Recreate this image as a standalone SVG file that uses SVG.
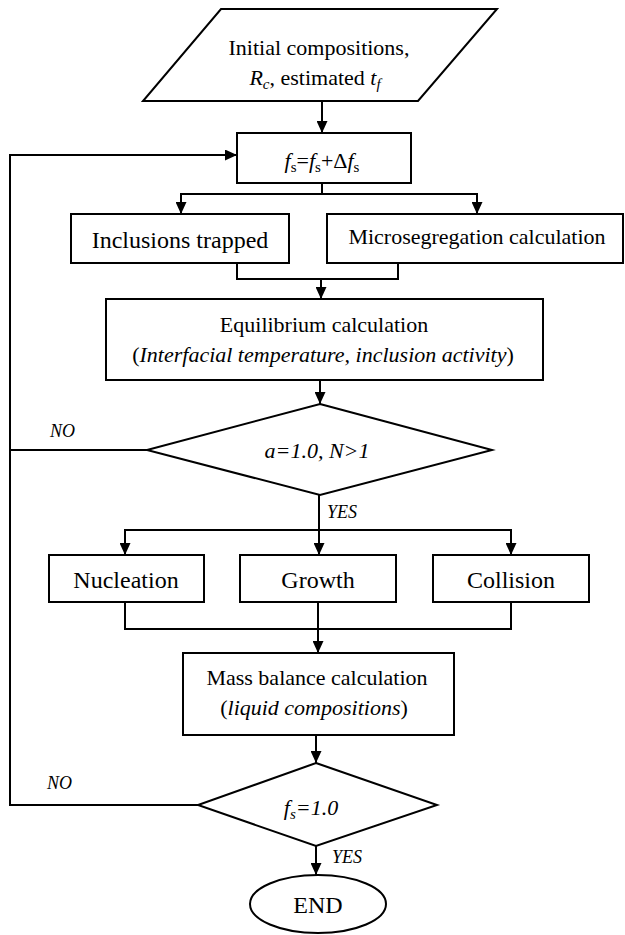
<svg xmlns="http://www.w3.org/2000/svg" width="625" height="935" viewBox="0 0 625 935">
<style>
.shape{fill:#fff;stroke:#000;stroke-width:2}
.conn path{fill:none;stroke:#000;stroke-width:2}
text{font-family:'Liberation Serif','Times New Roman',serif;fill:#000;text-anchor:middle}
.t22{font-size:22px}
.t24{font-size:24px}
.it{font-style:italic}
.lbl{font-size:18px;font-style:italic;text-anchor:start}
</style>
<defs>
<marker id="ah" markerUnits="userSpaceOnUse" markerWidth="12" markerHeight="11" refX="12" refY="5.5" orient="auto">
<path d="M0,0 L12,5.5 L0,11 z" fill="#000"/>
</marker>
</defs>
<rect width="625" height="935" fill="#fff"/>
<g id="connectors" class="conn">
<path d="M322,101 V133" marker-end="url(#ah)"/>
<path d="M322,183 V194 H181 V214" marker-end="url(#ah)"/>
<path d="M322,194 H477 V214" marker-end="url(#ah)"/>
<path d="M237,263 V279 H398 V263"/>
<path d="M321,279 V299" marker-end="url(#ah)"/>
<path d="M320,380 V404" marker-end="url(#ah)"/>
<path d="M147,450 H10 V155 H237" marker-end="url(#ah)"/>
<path d="M198,805 H10 V450"/>
<path d="M319,495 V555" marker-end="url(#ah)"/>
<path d="M319,530 H125 V555" marker-end="url(#ah)"/>
<path d="M319,530 H511 V555" marker-end="url(#ah)"/>
<path d="M125,602 V629 H511 V602"/>
<path d="M318,602 V653" marker-end="url(#ah)"/>
<path d="M316,735 V763" marker-end="url(#ah)"/>
<path d="M316,846 V875" marker-end="url(#ah)"/>
</g>
<g id="labels">
<text class="lbl" x="50" y="437">NO</text>
<text class="lbl" x="327" y="518">YES</text>
<text class="lbl" x="47" y="789">NO</text>
<text class="lbl" x="332" y="863">YES</text>
</g>
<g id="input">
<polygon class="shape" points="221,9 497,9 418,101 143,101"/>
<text class="t22" x="319" y="55">Initial compositions,</text>
<text class="t22" x="315" y="85"><tspan class="it">R</tspan><tspan class="it" font-size="15" dy="4">c</tspan><tspan dy="-4">, estimated </tspan><tspan class="it">t</tspan><tspan class="it" font-size="15" dy="4">f</tspan></text>
</g>
<g id="increment">
<rect class="shape" x="237" y="133" width="174" height="50"/>
<text class="t22" x="322" y="168"><tspan class="it">f</tspan><tspan font-size="15" dy="4">s</tspan><tspan dy="-4">=</tspan><tspan class="it">f</tspan><tspan font-size="15" dy="4">s</tspan><tspan dy="-4">+Δ</tspan><tspan class="it">f</tspan><tspan font-size="15" dy="4">s</tspan></text>
</g>
<g id="trapped">
<rect class="shape" x="71" y="214" width="218" height="49"/>
<text class="t24" x="180" y="248">Inclusions trapped</text>
</g>
<g id="microsegregation">
<rect class="shape" x="327" y="214" width="296" height="49"/>
<text class="t22" x="477" y="244">Microsegregation calculation</text>
</g>
<g id="equilibrium">
<rect class="shape" x="106" y="299" width="437" height="81"/>
<text class="t22" x="324" y="332">Equilibrium calculation</text>
<text class="t22" x="323" y="362">(<tspan class="it">Interfacial temperature, inclusion activity</tspan>)</text>
</g>
<g id="decision1">
<polygon class="shape" points="320,404 492,450 320,495 147,450"/>
<text class="t22 it" x="317" y="458">a=1.0, N&gt;1</text>
</g>
<g id="nucleation">
<rect class="shape" x="49" y="555" width="155" height="47"/>
<text class="t24" x="126" y="588">Nucleation</text>
</g>
<g id="growth">
<rect class="shape" x="240" y="555" width="156" height="47"/>
<text class="t24" x="318" y="588">Growth</text>
</g>
<g id="collision">
<rect class="shape" x="433" y="555" width="156" height="47"/>
<text class="t24" x="511" y="588">Collision</text>
</g>
<g id="massbalance">
<rect class="shape" x="183" y="653" width="271" height="82"/>
<text class="t22" x="317" y="685">Mass balance calculation</text>
<text class="t22" x="314" y="715">(<tspan class="it">liquid compositions</tspan>)</text>
</g>
<g id="decision2">
<polygon class="shape" points="316,763 437,805 316,846 198,805"/>
<text class="t22 it" x="311" y="815">f<tspan font-size="15" dy="4">s</tspan><tspan dy="-4">=1.0</tspan></text>
</g>
<g id="end">
<ellipse class="shape" cx="318" cy="904" rx="68" ry="29"/>
<text class="t24" x="318" y="913">END</text>
</g>
</svg>
